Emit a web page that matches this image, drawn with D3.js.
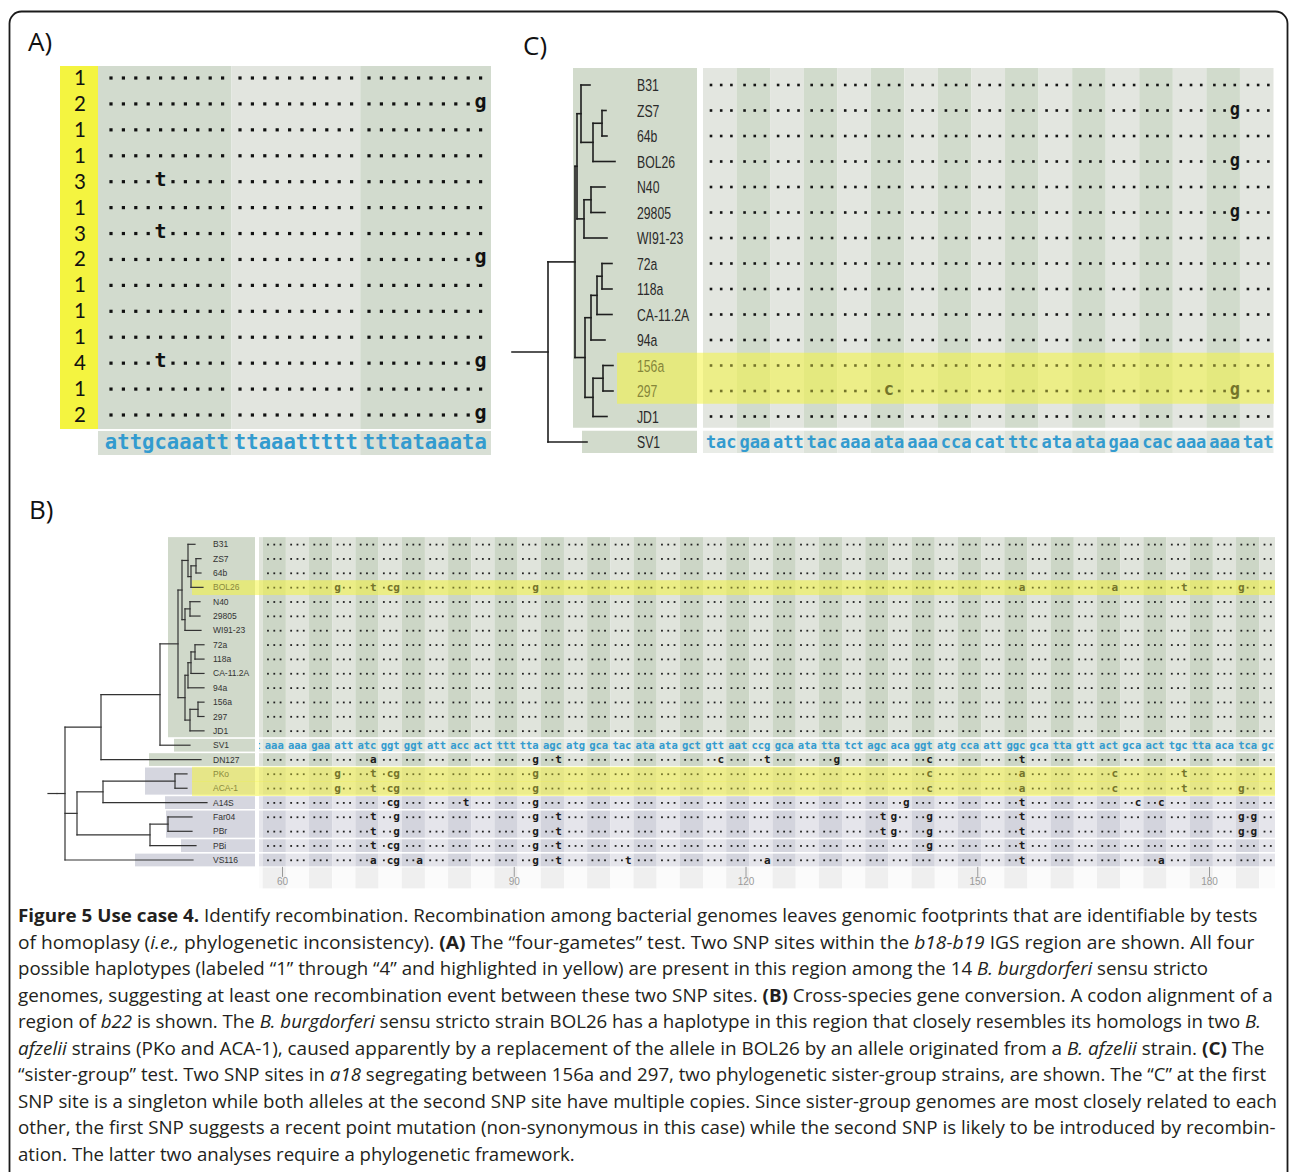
<!DOCTYPE html>
<html lang="en">
<head>
<meta charset="UTF-8">
<title>Figure 5 Use case 4 - recombination</title>
<script src="https://d3js.org/d3.v7.min.js"></script>
<style>
  body { margin: 0; background: #fff; }
  svg { display: block; }
  .mono { font-family: "DejaVu Sans Mono", monospace; font-weight: bold; }
  .strainC { font-family: "Liberation Sans Narrow", "Liberation Sans", Arial, sans-serif; font-size: 17px; fill: #2a2a2a; }
  .strainB { font-family: "Liberation Sans", Arial, sans-serif; font-size: 8.5px; fill: #333; }
  .panel-label { font-family: "Open Sans", sans-serif; font-size: 26px; fill: #111; }
  .caption { font-family: "Open Sans", sans-serif; font-size: 17.5px; fill: #231f20; }
</style>
</head>
<body>
<div id="fig"></div>
<script>
// ---------- data: panel A (four-gametes test) ----------
const haplotypesA = [1, 2, 1, 1, 3, 1, 3, 2, 1, 1, 1, 4, 1, 2];
const refA = ["attgcaaatt", "ttaaattttt", "tttataaata"];
// SNP site (0-based column), base, and the haplotypes carrying it
const snpsA = [
  { pos: 4, base: "t", haps: [3, 4] },
  { pos: 29, base: "g", haps: [2, 4] }
];

// ---------- data: panel C (sister-group test) ----------
const strainsC = ["B31", "ZS7", "64b", "BOL26", "N40", "29805", "WI91-23", "72a", "118a",
  "CA-11.2A", "94a", "156a", "297", "JD1", "SV1"];
const refC = ["tac", "gaa", "att", "tac", "aaa", "ata", "aaa", "cca", "cat", "ttc",
  "ata", "ata", "gaa", "cac", "aaa", "aaa", "tat"];
// [strain, codon, position in codon, base]
const snpsC = [
  ["ZS7", 15, 2, "g"], ["BOL26", 15, 2, "g"], ["29805", 15, 2, "g"],
  ["297", 5, 1, "c"], ["297", 15, 2, "g"]
];
const highlightC = ["156a", "297"];
const treeC = "((((B31:9,((ZS7:4,64b:5):9,BOL26:22):12):4,((N40:14,29805:14):7,WI91-23:23):7):2," +
  "((((72a:10,118a:10):5,CA-11.2A:15):6,94a:14):6,((156a:10,297:10):10,JD1:14):8):10):27,SV1:39):36;";

// ---------- data: panel B (cross-species gene conversion) ----------
const strainsB = ["B31", "ZS7", "64b", "BOL26", "N40", "29805", "WI91-23", "72a", "118a",
  "CA-11.2A", "94a", "156a", "297", "JD1", "SV1", "DN127", "PKo", "ACA-1", "A14S",
  "Far04", "PBr", "PBi", "VS116"];
const refBLead = "t";          // tail of codon ending at nt 57
const refBStart = 58;          // first full codon starts here
const refB = ["aaa", "aaa", "gaa", "att", "atc", "ggt", "ggt", "att", "acc", "act", "ttt",
  "tta", "agc", "atg", "gca", "tac", "ata", "ata", "gct", "gtt", "aat", "ccg", "gca", "ata",
  "tta", "tct", "agc", "aca", "ggt", "atg", "cca", "att", "ggc", "gca", "tta", "gtt", "act",
  "gca", "act", "tgc", "tta", "aca", "tca", "gc"];
// [nucleotide position, base]
const snpsB = {
  "BOL26": [[67, "g"], [72, "t"], [74, "c"], [75, "g"], [93, "g"], [156, "a"], [168, "a"], [177, "t"], [184, "g"]],
  "DN127": [[72, "a"], [93, "g"], [96, "t"], [117, "c"], [123, "t"], [132, "g"], [144, "c"], [156, "t"]],
  "PKo": [[67, "g"], [72, "t"], [74, "c"], [75, "g"], [93, "g"], [144, "c"], [156, "a"], [168, "c"], [177, "t"]],
  "ACA-1": [[67, "g"], [72, "t"], [74, "c"], [75, "g"], [93, "g"], [144, "c"], [156, "a"], [168, "c"], [177, "t"], [184, "g"]],
  "A14S": [[74, "c"], [75, "g"], [84, "t"], [93, "g"], [141, "g"], [156, "t"], [171, "c"], [174, "c"]],
  "Far04": [[72, "t"], [75, "g"], [93, "g"], [96, "t"], [138, "t"], [139, "g"], [144, "g"], [156, "t"], [184, "g"], [186, "g"]],
  "PBr": [[72, "t"], [75, "g"], [93, "g"], [96, "t"], [138, "t"], [139, "g"], [144, "g"], [156, "t"], [184, "g"], [186, "g"]],
  "PBi": [[72, "t"], [74, "c"], [75, "g"], [93, "g"], [96, "t"], [144, "g"], [156, "t"]],
  "VS116": [[72, "a"], [74, "c"], [75, "g"], [78, "a"], [93, "g"], [96, "t"], [105, "t"], [123, "a"], [156, "t"], [174, "a"]]
};
const highlightB = ["BOL26", "PKo", "ACA-1"];
const groupSizesB = [14, 1, 1, 2, 1, 2, 1, 1];
const groupKindsB = ["bb", "ref", "bb", "af", "af", "af", "af", "af"];
const ticksB = [60, 90, 120, 150, 180];
const treeB = "(((((((B31:7,((ZS7:5,64b:5):5,BOL26:12):3):6,((N40:10,29805:10):5,WI91-23:16):3):4," +
  "((((72a:9,118a:9):4,CA-11.2A:13):3,94a:16):3,((156a:6,297:6):8,JD1:14):5):7):18,SV1:30):59,DN127:100):36," +
  "(((PKo:12,ACA-1:12):72,A14S:104):26,((Far04:24,PBr:24):18,PBi:46):73):12,VS116:128):8):9;";

// ---------- caption ----------
const captionLines = [
  [["b", "Figure 5 Use case 4."], ["", " Identify recombination. Recombination among bacterial genomes leaves genomic footprints that are identifiable by tests"]],
  [["", "of homoplasy ("], ["i", "i.e.,"], ["", " phylogenetic inconsistency). "], ["b", "(A)"], ["", " The \u201cfour-gametes\u201d test. Two SNP sites within the "], ["i", "b18-b19"], ["", " IGS region are shown. All four"]],
  [["", "possible haplotypes (labeled \u201c1\u201d through \u201c4\u201d and highlighted in yellow) are present in this region among the 14 "], ["i", "B. burgdorferi"], ["", " sensu stricto"]],
  [["", "genomes, suggesting at least one recombination event between these two SNP sites. "], ["b", "(B)"], ["", " Cross-species gene conversion. A codon alignment of a"]],
  [["", "region of "], ["i", "b22"], ["", " is shown. The "], ["i", "B. burgdorferi"], ["", " sensu stricto strain BOL26 has a haplotype in this region that closely resembles its homologs in two "], ["i", "B."]],
  [["i", "afzelii"], ["", " strains (PKo and ACA-1), caused apparently by a replacement of the allele in BOL26 by an allele originated from a "], ["i", "B. afzelii"], ["", " strain. "], ["b", "(C)"], ["", " The"]],
  [["", "\u201csister-group\u201d test. Two SNP sites in "], ["i", "a18"], ["", " segregating between 156a and 297, two phylogenetic sister-group strains, are shown. The \u201cC\u201d at the first"]],
  [["", "SNP site is a singleton while both alleles at the second SNP site have multiple copies. Since sister-group genomes are most closely related to each"]],
  [["", "other, the first SNP suggests a recent point mutation (non-synonymous in this case) while the second SNP is likely to be introduced by recombin-"]],
  [["", "ation. The latter two analyses require a phylogenetic framework."]]
];

// ---------- helpers ----------
function parseNewick(str) {
  const s = str.replace(/\s/g, "");
  let i = 0;
  function node() {
    const n = { children: [] };
    if (s[i] === "(") {
      i++;
      n.children.push(node());
      while (s[i] === ",") { i++; n.children.push(node()); }
      i++; // ")"
    }
    let name = "";
    while (i < s.length && !":,);".includes(s[i])) name += s[i++];
    n.name = name;
    n.len = 0;
    if (s[i] === ":") {
      i++;
      let num = "";
      while (i < s.length && !",);".includes(s[i])) num += s[i++];
      n.len = +num;
    }
    return n;
  }
  return node();
}

function drawTree(g, newick, order, x, y, stroke, width) {
  const root = d3.hierarchy(parseNewick(newick), d => d.children.length ? d.children : null);
  root.each(d => { d.dist = (d.parent ? d.parent.dist : 0) + d.data.len; });
  root.eachAfter(d => {
    d.yy = d.children
      ? (d.children[0].yy + d.children[d.children.length - 1].yy) / 2
      : y(order.indexOf(d.data.name));
  });
  const segs = [[0, root.yy, root.dist, root.yy]];
  root.descendants().forEach(d => {
    if (d.parent) segs.push([d.parent.dist, d.yy, d.dist, d.yy]);
    if (d.children) segs.push([d.dist, d.children[0].yy, d.dist, d.children[d.children.length - 1].yy]);
  });
  g.selectAll("line").data(segs).join("line")
    .attr("x1", s => x(s[0])).attr("y1", s => s[1])
    .attr("x2", s => x(s[2])).attr("y2", s => s[3])
    .attr("stroke", stroke).attr("stroke-width", width).attr("stroke-linecap", "square");
}

// ---------- svg ----------
const W = 1290, H = 1172;
const svg = d3.select("#fig").append("svg").attr("width", W).attr("height", H);
svg.append("rect").attr("width", W).attr("height", H).attr("fill", "#fff");

// outer frame, open at the bottom
svg.append("rect")
  .attr("x", 9.5).attr("y", 11.5).attr("width", 1278).attr("height", 1240).attr("rx", 12)
  .attr("fill", "none").attr("stroke", "#1b1b1b").attr("stroke-width", 1.8);

svg.append("text").attr("class", "panel-label").attr("x", 28).attr("y", 51).text("A)");
svg.append("text").attr("class", "panel-label").attr("x", 523).attr("y", 55).text("C)");
svg.append("text").attr("class", "panel-label").attr("x", 29).attr("y", 519).text("B)");

const YELLOW = "#f4f440";
const BLUE = "#339bcf";
const OLIVE = "#74742a";

// ================= Panel A =================
const gA = svg.append("g");
const yA = d3.scaleLinear().domain([0, haplotypesA.length - 1]).range([78, 415]);
const colA = d3.scaleLinear().domain([0, 29]).range([111, 470.6]);
const xA = i => colA(i) + 5 * Math.floor(i / 10);
const edgesA = [98, (xA(9) + xA(10)) / 2, (xA(19) + xA(20)) / 2, 491];
const blockFillA = ["#d2dbce", "#e2e5df", "#d2dbce"];
const blockRefFillA = ["#d8dfd5", "#e8eae5", "#d8dfd5"];
const topA = yA(0) - 12, botA = yA(haplotypesA.length - 1) + 14;

gA.selectAll("rect.blk").data([0, 1, 2]).join("rect").attr("class", "blk")
  .attr("x", b => edgesA[b]).attr("width", b => edgesA[b + 1] - edgesA[b])
  .attr("y", topA).attr("height", botA - topA).attr("fill", b => blockFillA[b]);
gA.selectAll("rect.rblk").data([0, 1, 2]).join("rect").attr("class", "rblk")
  .attr("x", b => edgesA[b]).attr("width", b => edgesA[b + 1] - edgesA[b])
  .attr("y", botA + 2).attr("height", 24).attr("fill", b => blockRefFillA[b]);
gA.append("rect").attr("x", 60).attr("y", topA).attr("width", 38).attr("height", botA - topA).attr("fill", YELLOW);

gA.selectAll("text.hap").data(haplotypesA).join("text").attr("class", "hap")
  .attr("x", 80).attr("y", (d, r) => yA(r) + 7).attr("text-anchor", "middle")
  .style("font-family", "Lato, 'Open Sans', sans-serif").style("font-size", "20.5px").attr("fill", "#111")
  .text(d => d);

const cellsA = [];
haplotypesA.forEach((h, r) => {
  for (let i = 0; i < 30; i++) {
    const snp = snpsA.find(s => s.pos === i && s.haps.includes(h));
    cellsA.push({ r, i, base: snp ? snp.base : null });
  }
});
gA.selectAll("rect.dot").data(cellsA.filter(c => !c.base)).join("rect").attr("class", "dot")
  .attr("x", c => xA(c.i) - 1.6).attr("y", c => yA(c.r) - 1.6)
  .attr("width", 3.2).attr("height", 3.2).attr("fill", "#111");
gA.selectAll("text.snp").data(cellsA.filter(c => c.base)).join("text").attr("class", "snp mono")
  .attr("x", c => xA(c.i)).attr("y", c => yA(c.r) + 4).attr("text-anchor", "middle")
  .style("font-size", "20px").attr("fill", "#111").text(c => c.base);
const refCharsA = refA.join("").split("");
gA.selectAll("text.ref").data(refCharsA).join("text").attr("class", "ref mono")
  .attr("x", (c, i) => xA(i)).attr("y", botA + 20).attr("text-anchor", "middle")
  .style("font-size", "20.5px").attr("fill", BLUE).text(c => c);

// ================= Panel C =================
const gC = svg.append("g");
const yC = d3.scaleLinear().domain([0, 14]).range([85, 442]);
const codonC = d3.scaleLinear().domain([0, refC.length]).range([703, 1273.5]);
const xC = (k, j) => codonC(k) + 8 + 10.2 * j;
const nC = strainsC.length - 1; // SV1 is the reference row
const topC = yC(0) - 17;
const botC = (yC(nC - 1) + yC(nC)) / 2 - 1.5;
const refTopC = botC + 3, refBotC = yC(nC) + 11;

gC.append("rect").attr("x", 573).attr("y", topC).attr("width", 124).attr("height", botC - topC).attr("fill", "#d2dbcc");
gC.append("rect").attr("x", 582).attr("y", refTopC).attr("width", 115).attr("height", refBotC - refTopC).attr("fill", "#d2dbcc");
gC.selectAll("rect.col").data(refC).join("rect").attr("class", "col")
  .attr("x", (d, k) => codonC(k)).attr("width", (d, k) => codonC(k + 1) - codonC(k))
  .attr("y", topC).attr("height", botC - topC)
  .attr("fill", (d, k) => k % 2 ? "#d1dbcc" : "#e3e6e0");
gC.selectAll("rect.rcol").data(refC).join("rect").attr("class", "rcol")
  .attr("x", (d, k) => codonC(k)).attr("width", (d, k) => codonC(k + 1) - codonC(k))
  .attr("y", refTopC).attr("height", refBotC - refTopC)
  .attr("fill", (d, k) => k % 2 ? "#dde3da" : "#e9ece7");

const hiC = highlightC.map(s => strainsC.indexOf(s));
const hiTopC = (yC(d3.min(hiC) - 1) + yC(d3.min(hiC))) / 2;
const hiBotC = (yC(d3.max(hiC)) + yC(d3.max(hiC) + 1)) / 2;
gC.append("rect").attr("x", 617).attr("y", hiTopC).attr("width", 1274 - 617).attr("height", hiBotC - hiTopC)
  .attr("fill", YELLOW).attr("opacity", 0.55);

drawTree(gC.append("g"), treeC, strainsC, d3.scaleLinear().domain([0, 103]).range([512, 615]), yC, "#1e1e1e", 1.6);

gC.selectAll("text.lab").data(strainsC).join("text").attr("class", "lab strainC")
  .attr("transform", (d, r) => `translate(637,${yC(r) + 6}) scale(0.72,1)`)
  .style("fill", d => highlightC.includes(d) ? "#86863a" : null).text(d => d);

const cellsC = [];
strainsC.slice(0, nC).forEach((s, r) => {
  refC.forEach((cod, k) => {
    for (let j = 0; j < 3; j++) {
      const snp = snpsC.find(m => m[0] === s && m[1] === k && m[2] === j);
      cellsC.push({ r, k, j, base: snp ? snp[3] : null, hi: highlightC.includes(s) });
    }
  });
});
gC.selectAll("rect.dot").data(cellsC.filter(c => !c.base)).join("rect").attr("class", "dot")
  .attr("x", c => xC(c.k, c.j) - 1.3).attr("y", c => yC(c.r) - 1.3)
  .attr("width", 2.6).attr("height", 2.6).attr("fill", c => c.hi ? OLIVE : "#151515");
gC.selectAll("text.snp").data(cellsC.filter(c => c.base)).join("text").attr("class", "snp mono")
  .attr("x", c => xC(c.k, c.j)).attr("y", c => yC(c.r) + 4).attr("text-anchor", "middle")
  .style("font-size", "17px").attr("fill", c => c.hi ? OLIVE : "#151515").text(c => c.base);
const refCharsC = [];
refC.forEach((cod, k) => cod.split("").forEach((b, j) => refCharsC.push({ k, j, b })));
gC.selectAll("text.ref").data(refCharsC).join("text").attr("class", "ref mono")
  .attr("x", c => xC(c.k, c.j)).attr("y", yC(nC) + 6).attr("text-anchor", "middle")
  .style("font-size", "17px").attr("fill", BLUE).text(c => c.b);

// ================= Panel B =================
const gB = svg.append("g");
const yB = d3.scaleLinear().domain([0, strainsB.length - 1]).range([544.3, 860]);
const stepB = yB(1) - yB(0);
const ntB = d3.scaleLinear().domain([60, 180]).range([282, 1209]);
// characters are grouped by codon: centre of codon plus a tighter in-codon pitch
const pitchB = 6.3;
const codonOf = p => Math.floor((p - refBStart) / 3);
const xB = p => {
  const k = codonOf(p), j = p - refBStart - 3 * k;
  return ntB(refBStart + 3 * k + 1) + (j - 1) * pitchB;
};
const alnLeftB = 259, alnRightB = 1275;
const firstNt = refBStart - refBLead.length, lastNt = refBStart + refB.join("").length - 1;
const nCodB = refB.length;
const codonIdx = d3.range(-1, nCodB);
const labelBoxLeftB = [168, 174, 149, 145, 165, 166, 181, 135];
const labelFillB = { bb: "#d0d9ca", ref: "#d0d9ca", af: "#d5d6df" };
const stripeB = {
  bb: ["#ccd6c6", "#e0e4dc"],
  ref: ["#dde4da", "#eaede8"],
  af: ["#d3d4dd", "#e5e5eb"]
};

gB.append("clipPath").attr("id", "clipB").append("rect")
  .attr("x", alnLeftB).attr("y", 500).attr("width", alnRightB - alnLeftB).attr("height", 400);

// groups of rows
const groupsB = [];
let startRow = 0;
groupSizesB.forEach((n, gi) => {
  groupsB.push({
    kind: groupKindsB[gi], left: labelBoxLeftB[gi],
    top: yB(startRow) - stepB / 2 + (gi > 0 ? 0.8 : 0),
    bot: yB(startRow + n - 1) + stepB / 2 - 0.8
  });
  startRow += n;
});

gB.selectAll("rect.lbox").data(groupsB).join("rect").attr("class", "lbox")
  .attr("x", g => g.left).attr("width", g => 255 - g.left)
  .attr("y", g => g.top).attr("height", g => g.bot - g.top).attr("fill", g => labelFillB[g.kind]);

const codonEdge = k => ntB(refBStart - 0.5 + 3 * k);
const stripes = gB.append("g").attr("clip-path", "url(#clipB)");
groupsB.forEach(g => {
  stripes.append("g").selectAll("rect").data(codonIdx).join("rect")
    .attr("x", k => codonEdge(k))
    .attr("width", k => codonEdge(k + 1) - codonEdge(k))
    .attr("y", g.top).attr("height", g.bot - g.top)
    .attr("fill", k => stripeB[g.kind][Math.abs(k) % 2]);
});
// axis strip under the alignment
stripes.append("g").selectAll("rect").data(codonIdx).join("rect")
  .attr("x", k => codonEdge(k))
  .attr("width", k => codonEdge(k + 1) - codonEdge(k))
  .attr("y", groupsB[groupsB.length - 1].bot + 1).attr("height", 21)
  .attr("fill", k => Math.abs(k) % 2 ? "#fbfbfb" : "#efefef");

// highlights
highlightB.forEach(s => {
  const r = strainsB.indexOf(s);
  gB.append("rect").attr("x", 192).attr("width", alnRightB - 192)
    .attr("y", yB(r) - stepB / 2).attr("height", stepB + 0.5)
    .attr("fill", YELLOW).attr("opacity", 0.55);
});

drawTree(gB.append("g"), treeB, strainsB, d3.scaleLinear().domain([0, 159]).range([48, 207]), yB, "#333", 1.2);

gB.selectAll("text.lab").data(strainsB).join("text").attr("class", "lab strainB")
  .attr("x", 213).attr("y", (d, r) => yB(r) + 3)
  .style("fill", d => highlightB.includes(d) ? "#8a8a3c" : null).text(d => d);

const cellsB = [];
strainsB.forEach((s, r) => {
  if (s === "SV1") return;
  const muts = snpsB[s] || [];
  for (let p = firstNt; p <= lastNt; p++) {
    const m = muts.find(v => v[0] === p);
    cellsB.push({ r, p, base: m ? m[1] : null, hi: highlightB.includes(s) });
  }
});
const cellG = gB.append("g").attr("clip-path", "url(#clipB)");
cellG.selectAll("rect.dot").data(cellsB.filter(c => !c.base)).join("rect").attr("class", "dot")
  .attr("x", c => xB(c.p) - 0.9).attr("y", c => yB(c.r) - 0.6)
  .attr("width", 1.8).attr("height", 1.8).attr("fill", c => c.hi ? OLIVE : "#222");
cellG.selectAll("text.snp").data(cellsB.filter(c => c.base)).join("text").attr("class", "snp mono")
  .attr("x", c => xB(c.p)).attr("y", c => yB(c.r) + 3.5).attr("text-anchor", "middle")
  .style("font-size", "11px").attr("fill", c => c.hi ? OLIVE : "#1a1a1a").text(c => c.base);
const refCharsB = (refBLead + refB.join("")).split("").map((b, i) => ({ p: firstNt + i, b }));
cellG.selectAll("text.ref").data(refCharsB).join("text").attr("class", "ref mono")
  .attr("x", c => xB(c.p)).attr("y", yB(strainsB.indexOf("SV1")) + 3.5).attr("text-anchor", "middle")
  .style("font-size", "10.5px").attr("fill", BLUE).text(c => c.b);

// position axis
const axisB = gB.append("g")
  .attr("transform", `translate(0,${groupsB[groupsB.length - 1].bot + 0.5})`)
  .call(d3.axisBottom(ntB).tickValues(ticksB).tickSize(10).tickSizeOuter(0));
axisB.select(".domain").remove();
axisB.selectAll(".tick line").attr("stroke", "#9a9a9a");
axisB.selectAll(".tick text").attr("fill", "#9a9a9a").attr("dy", "0.55em")
  .style("font-family", "'Liberation Sans', Arial, sans-serif").style("font-size", "10px");

// ================= Caption =================
const capTargets = [1258, 1255, 1209, 1274, 1262, 1265, 1267, 1278, 1277, 575];
const capG = svg.append("g");
captionLines.forEach((segs, li) => {
  const t = capG.append("text").attr("class", "caption")
    .attr("transform", `translate(18,${922 + 26.5 * li})`);
  segs.forEach(([st, txt]) => {
    t.append("tspan").text(txt)
      .style("font-weight", st === "b" ? "bold" : null)
      .style("font-style", st === "i" ? "italic" : null);
  });
  const natural = t.node().getComputedTextLength();
  const sx = (capTargets[li] - 18) / natural;
  t.attr("transform", `translate(18,${922 + 26.5 * li}) scale(${sx},1)`);
});
</script>
</body>
</html>
